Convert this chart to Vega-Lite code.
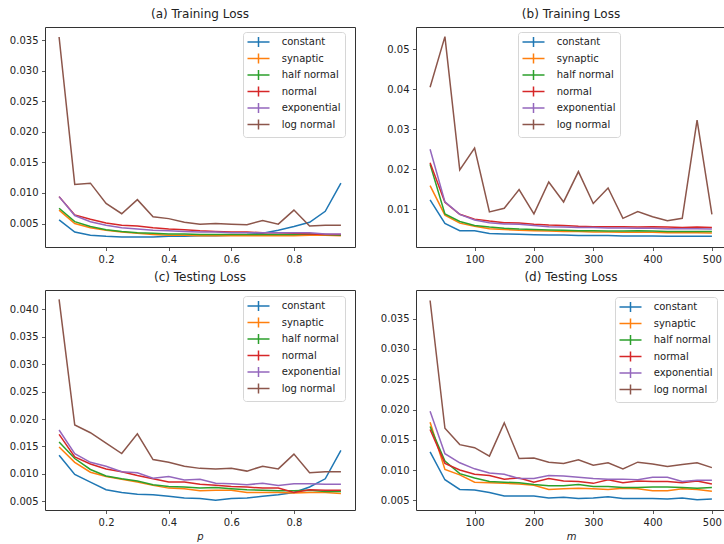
{
"$schema": "https://vega.github.io/schema/vega-lite/v6.json",
"padding": {"left": 8, "top": 7, "right": 0, "bottom": 0},
"background": "white",
"datasets": {
"P": [
{"s":"constant","p":0.05,"tr":0.0056,"te":0.0134},{"s":"constant","p":0.1,"tr":0.0036,"te":0.0099},{"s":"constant","p":0.15,"tr":0.0031,"te":0.0085},{"s":"constant","p":0.2,"tr":0.0029,"te":0.0071},{"s":"constant","p":0.25,"tr":0.0028,"te":0.0066},{"s":"constant","p":0.3,"tr":0.0028,"te":0.0063},{"s":"constant","p":0.35,"tr":0.0028,"te":0.0062},{"s":"constant","p":0.4,"tr":0.0029,"te":0.0059},{"s":"constant","p":0.45,"tr":0.0029,"te":0.0056},{"s":"constant","p":0.5,"tr":0.0030,"te":0.0055},{"s":"constant","p":0.55,"tr":0.0030,"te":0.0052},{"s":"constant","p":0.6,"tr":0.0031,"te":0.0055},{"s":"constant","p":0.65,"tr":0.0032,"te":0.0056},{"s":"constant","p":0.7,"tr":0.0034,"te":0.0059},{"s":"constant","p":0.75,"tr":0.0039,"te":0.0062},{"s":"constant","p":0.8,"tr":0.0045,"te":0.0066},{"s":"constant","p":0.85,"tr":0.0052,"te":0.0076},{"s":"constant","p":0.9,"tr":0.0070,"te":0.0091},{"s":"constant","p":0.95,"tr":0.0116,"te":0.0143},
{"s":"synaptic","p":0.05,"tr":0.0072,"te":0.0149},{"s":"synaptic","p":0.1,"tr":0.0050,"te":0.0121},{"s":"synaptic","p":0.15,"tr":0.0043,"te":0.0103},{"s":"synaptic","p":0.2,"tr":0.0039,"te":0.0095},{"s":"synaptic","p":0.25,"tr":0.0036,"te":0.0090},{"s":"synaptic","p":0.3,"tr":0.0034,"te":0.0085},{"s":"synaptic","p":0.35,"tr":0.0032,"te":0.0079},{"s":"synaptic","p":0.4,"tr":0.0031,"te":0.0074},{"s":"synaptic","p":0.45,"tr":0.0031,"te":0.0073},{"s":"synaptic","p":0.5,"tr":0.0030,"te":0.0069},{"s":"synaptic","p":0.55,"tr":0.0030,"te":0.0070},{"s":"synaptic","p":0.6,"tr":0.0030,"te":0.0070},{"s":"synaptic","p":0.65,"tr":0.0030,"te":0.0066},{"s":"synaptic","p":0.7,"tr":0.0030,"te":0.0066},{"s":"synaptic","p":0.75,"tr":0.0030,"te":0.0066},{"s":"synaptic","p":0.8,"tr":0.0030,"te":0.0065},{"s":"synaptic","p":0.85,"tr":0.0031,"te":0.0066},{"s":"synaptic","p":0.9,"tr":0.0031,"te":0.0066},{"s":"synaptic","p":0.95,"tr":0.0030,"te":0.0064},
{"s":"half normal","p":0.05,"tr":0.0075,"te":0.0158},{"s":"half normal","p":0.1,"tr":0.0053,"te":0.0128},{"s":"half normal","p":0.15,"tr":0.0045,"te":0.0108},{"s":"half normal","p":0.2,"tr":0.0040,"te":0.0096},{"s":"half normal","p":0.25,"tr":0.0037,"te":0.0091},{"s":"half normal","p":0.3,"tr":0.0035,"te":0.0087},{"s":"half normal","p":0.35,"tr":0.0034,"te":0.0080},{"s":"half normal","p":0.4,"tr":0.0033,"te":0.0077},{"s":"half normal","p":0.45,"tr":0.0033,"te":0.0076},{"s":"half normal","p":0.5,"tr":0.0032,"te":0.0074},{"s":"half normal","p":0.55,"tr":0.0032,"te":0.0075},{"s":"half normal","p":0.6,"tr":0.0032,"te":0.0073},{"s":"half normal","p":0.65,"tr":0.0032,"te":0.0071},{"s":"half normal","p":0.7,"tr":0.0032,"te":0.0070},{"s":"half normal","p":0.75,"tr":0.0032,"te":0.0069},{"s":"half normal","p":0.8,"tr":0.0032,"te":0.0069},{"s":"half normal","p":0.85,"tr":0.0033,"te":0.0070},{"s":"half normal","p":0.9,"tr":0.0032,"te":0.0068},{"s":"half normal","p":0.95,"tr":0.0031,"te":0.0068},
{"s":"normal","p":0.05,"tr":0.0094,"te":0.0172},{"s":"normal","p":0.1,"tr":0.0064,"te":0.0131},{"s":"normal","p":0.15,"tr":0.0057,"te":0.0118},{"s":"normal","p":0.2,"tr":0.0051,"te":0.0109},{"s":"normal","p":0.25,"tr":0.0047,"te":0.0104},{"s":"normal","p":0.3,"tr":0.0046,"te":0.0097},{"s":"normal","p":0.35,"tr":0.0043,"te":0.0091},{"s":"normal","p":0.4,"tr":0.0041,"te":0.0085},{"s":"normal","p":0.45,"tr":0.0040,"te":0.0085},{"s":"normal","p":0.5,"tr":0.0038,"te":0.0081},{"s":"normal","p":0.55,"tr":0.0037,"te":0.0079},{"s":"normal","p":0.6,"tr":0.0036,"te":0.0077},{"s":"normal","p":0.65,"tr":0.0036,"te":0.0076},{"s":"normal","p":0.7,"tr":0.0035,"te":0.0074},{"s":"normal","p":0.75,"tr":0.0035,"te":0.0074},{"s":"normal","p":0.8,"tr":0.0034,"te":0.0066},{"s":"normal","p":0.85,"tr":0.0033,"te":0.0071},{"s":"normal","p":0.9,"tr":0.0032,"te":0.0070},{"s":"normal","p":0.95,"tr":0.0032,"te":0.0070},
{"s":"exponential","p":0.05,"tr":0.0094,"te":0.0180},{"s":"exponential","p":0.1,"tr":0.0063,"te":0.0137},{"s":"exponential","p":0.15,"tr":0.0053,"te":0.0121},{"s":"exponential","p":0.2,"tr":0.0047,"te":0.0114},{"s":"exponential","p":0.25,"tr":0.0043,"te":0.0104},{"s":"exponential","p":0.3,"tr":0.0041,"te":0.0102},{"s":"exponential","p":0.35,"tr":0.0039,"te":0.0092},{"s":"exponential","p":0.4,"tr":0.0038,"te":0.0095},{"s":"exponential","p":0.45,"tr":0.0037,"te":0.0089},{"s":"exponential","p":0.5,"tr":0.0036,"te":0.0090},{"s":"exponential","p":0.55,"tr":0.0036,"te":0.0083},{"s":"exponential","p":0.6,"tr":0.0035,"te":0.0082},{"s":"exponential","p":0.65,"tr":0.0035,"te":0.0080},{"s":"exponential","p":0.7,"tr":0.0035,"te":0.0083},{"s":"exponential","p":0.75,"tr":0.0035,"te":0.0079},{"s":"exponential","p":0.8,"tr":0.0035,"te":0.0082},{"s":"exponential","p":0.85,"tr":0.0035,"te":0.0082},{"s":"exponential","p":0.9,"tr":0.0033,"te":0.0081},{"s":"exponential","p":0.95,"tr":0.0033,"te":0.0081},
{"s":"log normal","p":0.05,"tr":0.0355,"te":0.0418},{"s":"log normal","p":0.1,"tr":0.0114,"te":0.0189},{"s":"log normal","p":0.15,"tr":0.0116,"te":0.0175},{"s":"log normal","p":0.2,"tr":0.0083,"te":0.0156},{"s":"log normal","p":0.25,"tr":0.0066,"te":0.0137},{"s":"log normal","p":0.3,"tr":0.0089,"te":0.0173},{"s":"log normal","p":0.35,"tr":0.0061,"te":0.0126},{"s":"log normal","p":0.4,"tr":0.0058,"te":0.0121},{"s":"log normal","p":0.45,"tr":0.0052,"te":0.0114},{"s":"log normal","p":0.5,"tr":0.0049,"te":0.0110},{"s":"log normal","p":0.55,"tr":0.0050,"te":0.0109},{"s":"log normal","p":0.6,"tr":0.0049,"te":0.0110},{"s":"log normal","p":0.65,"tr":0.0048,"te":0.0105},{"s":"log normal","p":0.7,"tr":0.0055,"te":0.0114},{"s":"log normal","p":0.75,"tr":0.0049,"te":0.0109},{"s":"log normal","p":0.8,"tr":0.0072,"te":0.0136},{"s":"log normal","p":0.85,"tr":0.0046,"te":0.0102},{"s":"log normal","p":0.9,"tr":0.0047,"te":0.0104},{"s":"log normal","p":0.95,"tr":0.0047,"te":0.0104}
],
"M": [
{"s":"constant","m":25,"tr":0.0123,"te":0.0130},{"s":"constant","m":50,"tr":0.0064,"te":0.0084},{"s":"constant","m":75,"tr":0.0046,"te":0.0068},{"s":"constant","m":100,"tr":0.0046,"te":0.0067},{"s":"constant","m":125,"tr":0.0039,"te":0.0063},{"s":"constant","m":150,"tr":0.0038,"te":0.0057},{"s":"constant","m":175,"tr":0.0037,"te":0.0057},{"s":"constant","m":200,"tr":0.0036,"te":0.0057},{"s":"constant","m":225,"tr":0.0035,"te":0.0054},{"s":"constant","m":250,"tr":0.0035,"te":0.0055},{"s":"constant","m":275,"tr":0.0034,"te":0.0053},{"s":"constant","m":300,"tr":0.0034,"te":0.0054},{"s":"constant","m":325,"tr":0.0034,"te":0.0056},{"s":"constant","m":350,"tr":0.0033,"te":0.0053},{"s":"constant","m":375,"tr":0.0033,"te":0.0053},{"s":"constant","m":400,"tr":0.0033,"te":0.0053},{"s":"constant","m":425,"tr":0.0032,"te":0.0052},{"s":"constant","m":450,"tr":0.0032,"te":0.0054},{"s":"constant","m":475,"tr":0.0032,"te":0.0051},{"s":"constant","m":500,"tr":0.0032,"te":0.0052},
{"s":"synaptic","m":25,"tr":0.0159,"te":0.0179},{"s":"synaptic","m":50,"tr":0.0085,"te":0.0101},{"s":"synaptic","m":75,"tr":0.0065,"te":0.0092},{"s":"synaptic","m":100,"tr":0.0057,"te":0.0080},{"s":"synaptic","m":125,"tr":0.0051,"te":0.0079},{"s":"synaptic","m":150,"tr":0.0049,"te":0.0078},{"s":"synaptic","m":175,"tr":0.0047,"te":0.0077},{"s":"synaptic","m":200,"tr":0.0046,"te":0.0075},{"s":"synaptic","m":225,"tr":0.0045,"te":0.0068},{"s":"synaptic","m":250,"tr":0.0044,"te":0.0069},{"s":"synaptic","m":275,"tr":0.0044,"te":0.0070},{"s":"synaptic","m":300,"tr":0.0043,"te":0.0069},{"s":"synaptic","m":325,"tr":0.0043,"te":0.0068},{"s":"synaptic","m":350,"tr":0.0042,"te":0.0070},{"s":"synaptic","m":375,"tr":0.0042,"te":0.0069},{"s":"synaptic","m":400,"tr":0.0042,"te":0.0066},{"s":"synaptic","m":425,"tr":0.0041,"te":0.0066},{"s":"synaptic","m":450,"tr":0.0041,"te":0.0069},{"s":"synaptic","m":475,"tr":0.0041,"te":0.0068},{"s":"synaptic","m":500,"tr":0.0040,"te":0.0065},
{"s":"half normal","m":25,"tr":0.0212,"te":0.0172},{"s":"half normal","m":50,"tr":0.0088,"te":0.0115},{"s":"half normal","m":75,"tr":0.0069,"te":0.0094},{"s":"half normal","m":100,"tr":0.0059,"te":0.0087},{"s":"half normal","m":125,"tr":0.0055,"te":0.0081},{"s":"half normal","m":150,"tr":0.0052,"te":0.0080},{"s":"half normal","m":175,"tr":0.0050,"te":0.0079},{"s":"half normal","m":200,"tr":0.0049,"te":0.0076},{"s":"half normal","m":225,"tr":0.0048,"te":0.0074},{"s":"half normal","m":250,"tr":0.0047,"te":0.0074},{"s":"half normal","m":275,"tr":0.0046,"te":0.0076},{"s":"half normal","m":300,"tr":0.0046,"te":0.0073},{"s":"half normal","m":325,"tr":0.0045,"te":0.0073},{"s":"half normal","m":350,"tr":0.0045,"te":0.0071},{"s":"half normal","m":375,"tr":0.0046,"te":0.0071},{"s":"half normal","m":400,"tr":0.0045,"te":0.0072},{"s":"half normal","m":425,"tr":0.0044,"te":0.0072},{"s":"half normal","m":450,"tr":0.0044,"te":0.0071},{"s":"half normal","m":475,"tr":0.0044,"te":0.0070},{"s":"half normal","m":500,"tr":0.0044,"te":0.0071},
{"s":"normal","m":25,"tr":0.0216,"te":0.0167},{"s":"normal","m":50,"tr":0.0117,"te":0.0111},{"s":"normal","m":75,"tr":0.0087,"te":0.0100},{"s":"normal","m":100,"tr":0.0075,"te":0.0093},{"s":"normal","m":125,"tr":0.0070,"te":0.0091},{"s":"normal","m":150,"tr":0.0066,"te":0.0085},{"s":"normal","m":175,"tr":0.0065,"te":0.0087},{"s":"normal","m":200,"tr":0.0062,"te":0.0080},{"s":"normal","m":225,"tr":0.0060,"te":0.0086},{"s":"normal","m":250,"tr":0.0059,"te":0.0082},{"s":"normal","m":275,"tr":0.0057,"te":0.0081},{"s":"normal","m":300,"tr":0.0056,"te":0.0078},{"s":"normal","m":325,"tr":0.0056,"te":0.0084},{"s":"normal","m":350,"tr":0.0056,"te":0.0079},{"s":"normal","m":375,"tr":0.0055,"te":0.0082},{"s":"normal","m":400,"tr":0.0056,"te":0.0081},{"s":"normal","m":425,"tr":0.0055,"te":0.0081},{"s":"normal","m":450,"tr":0.0054,"te":0.0079},{"s":"normal","m":475,"tr":0.0055,"te":0.0082},{"s":"normal","m":500,"tr":0.0054,"te":0.0077},
{"s":"exponential","m":25,"tr":0.0250,"te":0.0197},{"s":"exponential","m":50,"tr":0.0118,"te":0.0127},{"s":"exponential","m":75,"tr":0.0087,"te":0.0112},{"s":"exponential","m":100,"tr":0.0073,"te":0.0102},{"s":"exponential","m":125,"tr":0.0066,"te":0.0095},{"s":"exponential","m":150,"tr":0.0063,"te":0.0093},{"s":"exponential","m":175,"tr":0.0062,"te":0.0086},{"s":"exponential","m":200,"tr":0.0059,"te":0.0086},{"s":"exponential","m":225,"tr":0.0056,"te":0.0091},{"s":"exponential","m":250,"tr":0.0055,"te":0.0090},{"s":"exponential","m":275,"tr":0.0054,"te":0.0088},{"s":"exponential","m":300,"tr":0.0054,"te":0.0086},{"s":"exponential","m":325,"tr":0.0053,"te":0.0085},{"s":"exponential","m":350,"tr":0.0053,"te":0.0085},{"s":"exponential","m":375,"tr":0.0052,"te":0.0084},{"s":"exponential","m":400,"tr":0.0052,"te":0.0088},{"s":"exponential","m":425,"tr":0.0051,"te":0.0088},{"s":"exponential","m":450,"tr":0.0051,"te":0.0081},{"s":"exponential","m":475,"tr":0.0051,"te":0.0083},{"s":"exponential","m":500,"tr":0.0050,"te":0.0083},
{"s":"log normal","m":25,"tr":0.0405,"te":0.0380},{"s":"log normal","m":50,"tr":0.0532,"te":0.0169},{"s":"log normal","m":75,"tr":0.0198,"te":0.0142},{"s":"log normal","m":100,"tr":0.0253,"te":0.0137},{"s":"log normal","m":125,"tr":0.0093,"te":0.0123},{"s":"log normal","m":150,"tr":0.0102,"te":0.0178},{"s":"log normal","m":175,"tr":0.0149,"te":0.0119},{"s":"log normal","m":200,"tr":0.0088,"te":0.0120},{"s":"log normal","m":225,"tr":0.0168,"te":0.0113},{"s":"log normal","m":250,"tr":0.0118,"te":0.0111},{"s":"log normal","m":275,"tr":0.0194,"te":0.0117},{"s":"log normal","m":300,"tr":0.0114,"te":0.0108},{"s":"log normal","m":325,"tr":0.0153,"te":0.0112},{"s":"log normal","m":350,"tr":0.0077,"te":0.0102},{"s":"log normal","m":375,"tr":0.0094,"te":0.0113},{"s":"log normal","m":400,"tr":0.0081,"te":0.0110},{"s":"log normal","m":425,"tr":0.0071,"te":0.0106},{"s":"log normal","m":450,"tr":0.0077,"te":0.0109},{"s":"log normal","m":475,"tr":0.0323,"te":0.0112},{"s":"log normal","m":500,"tr":0.0087,"te":0.0104}
]
},
"columns": 2,
"spacing": {"row": 43, "column": 61},
"bounds": "flush",
"concat": [
{
"data": {"name": "P"},
"width": 310, "height": 220,
"title": {"text": "(a) Training Loss"},
"mark": {"type": "line", "strokeWidth": 1.5},
"encoding": {
"x": {"field": "p", "type": "quantitative", "scale": {"domain": [0.005, 0.995], "nice": false, "zero": false}, "axis": {"values": [0.2, 0.4, 0.6, 0.8], "format": ".1f", "title": null}},
"y": {"field": "tr", "type": "quantitative", "scale": {"domain": [0.00116, 0.03714], "nice": false, "zero": false}, "axis": {"values": [0.005, 0.01, 0.015, 0.02, 0.025, 0.03, 0.035], "format": ".3f", "title": null}},
"color": {"field": "s", "type": "nominal", "scale": {"domain": ["constant", "synaptic", "half normal", "normal", "exponential", "log normal"], "range": ["#1f77b4", "#ff7f0e", "#2ca02c", "#d62728", "#9467bd", "#8c564b"]}, "legend": {"title": null, "orient": "none", "legendX": 198, "legendY": 5}}
}
},
{
"data": {"name": "M"},
"width": 310, "height": 220,
"title": {"text": "(b) Training Loss"},
"mark": {"type": "line", "strokeWidth": 1.5},
"encoding": {
"x": {"field": "m", "type": "quantitative", "scale": {"domain": [1.25, 523.75], "nice": false, "zero": false}, "axis": {"values": [100, 200, 300, 400, 500], "format": "d", "title": null}},
"y": {"field": "tr", "type": "quantitative", "scale": {"domain": [0.00052, 0.0556], "nice": false, "zero": false}, "axis": {"values": [0.01, 0.02, 0.03, 0.04, 0.05], "format": ".2f", "title": null}},
"color": {"field": "s", "type": "nominal", "scale": {"domain": ["constant", "synaptic", "half normal", "normal", "exponential", "log normal"], "range": ["#1f77b4", "#ff7f0e", "#2ca02c", "#d62728", "#9467bd", "#8c564b"]}, "legend": {"title": null, "orient": "none", "legendX": 102, "legendY": 5}}
}
},
{
"data": {"name": "P"},
"width": 310, "height": 220,
"title": {"text": "(c) Testing Loss"},
"mark": {"type": "line", "strokeWidth": 1.5},
"encoding": {
"x": {"field": "p", "type": "quantitative", "scale": {"domain": [0.005, 0.995], "nice": false, "zero": false}, "axis": {"values": [0.2, 0.4, 0.6, 0.8], "format": ".1f", "title": "p"}},
"y": {"field": "te", "type": "quantitative", "scale": {"domain": [0.00341, 0.04352], "nice": false, "zero": false}, "axis": {"values": [0.005, 0.01, 0.015, 0.02, 0.025, 0.03, 0.035, 0.04], "format": ".3f", "title": null}},
"color": {"field": "s", "type": "nominal", "scale": {"domain": ["constant", "synaptic", "half normal", "normal", "exponential", "log normal"], "range": ["#1f77b4", "#ff7f0e", "#2ca02c", "#d62728", "#9467bd", "#8c564b"]}, "legend": {"title": null, "orient": "none", "legendX": 198, "legendY": 6}}
}
},
{
"data": {"name": "M"},
"width": 310, "height": 220,
"title": {"text": "(d) Testing Loss"},
"mark": {"type": "line", "strokeWidth": 1.5},
"encoding": {
"x": {"field": "m", "type": "quantitative", "scale": {"domain": [1.25, 523.75], "nice": false, "zero": false}, "axis": {"values": [100, 200, 300, 400, 500], "format": "d", "title": "m"}},
"y": {"field": "te", "type": "quantitative", "scale": {"domain": [0.0034, 0.03974], "nice": false, "zero": false}, "axis": {"values": [0.005, 0.01, 0.015, 0.02, 0.025, 0.03, 0.035], "format": ".3f", "title": null}},
"color": {"field": "s", "type": "nominal", "scale": {"domain": ["constant", "synaptic", "half normal", "normal", "exponential", "log normal"], "range": ["#1f77b4", "#ff7f0e", "#2ca02c", "#d62728", "#9467bd", "#8c564b"]}, "legend": {"title": null, "orient": "none", "legendX": 199, "legendY": 7}}
}
}
],
"resolve": {"scale": {"x": "independent", "y": "independent"}, "legend": {"color": "independent"}},
"config": {
"font": "DejaVu Sans",
"view": {"stroke": "#333333", "strokeWidth": 1},
"axis": {"domain": false, "grid": false, "tickSize": 3.5, "tickWidth": 0.8, "tickColor": "#333333", "labelFontSize": 10, "labelColor": "#222222", "labelPadding": 3.5, "labelFont": "DejaVu Sans", "titleFont": "DejaVu Sans", "titleFontSize": 10, "titleFontWeight": "normal", "titleFontStyle": "italic", "titleColor": "#222222", "titlePadding": 4},
"title": {"fontSize": 12, "fontWeight": "normal", "font": "DejaVu Sans", "color": "#222222", "offset": 6, "baseline": "alphabetic"},
"legend": {"fillColor": "rgba(255,255,255,0.8)", "strokeColor": "#d6d6d6", "cornerRadius": 3, "padding": 4, "labelFontSize": 10, "labelFont": "DejaVu Sans", "labelColor": "#222222", "symbolType": "M-1.1,0H3.3M1.1,-1V1", "symbolSize": 100, "symbolStrokeWidth": 1.5, "labelOffset": 22.7, "rowPadding": 0.5, "labelLimit": 200}
}
}
